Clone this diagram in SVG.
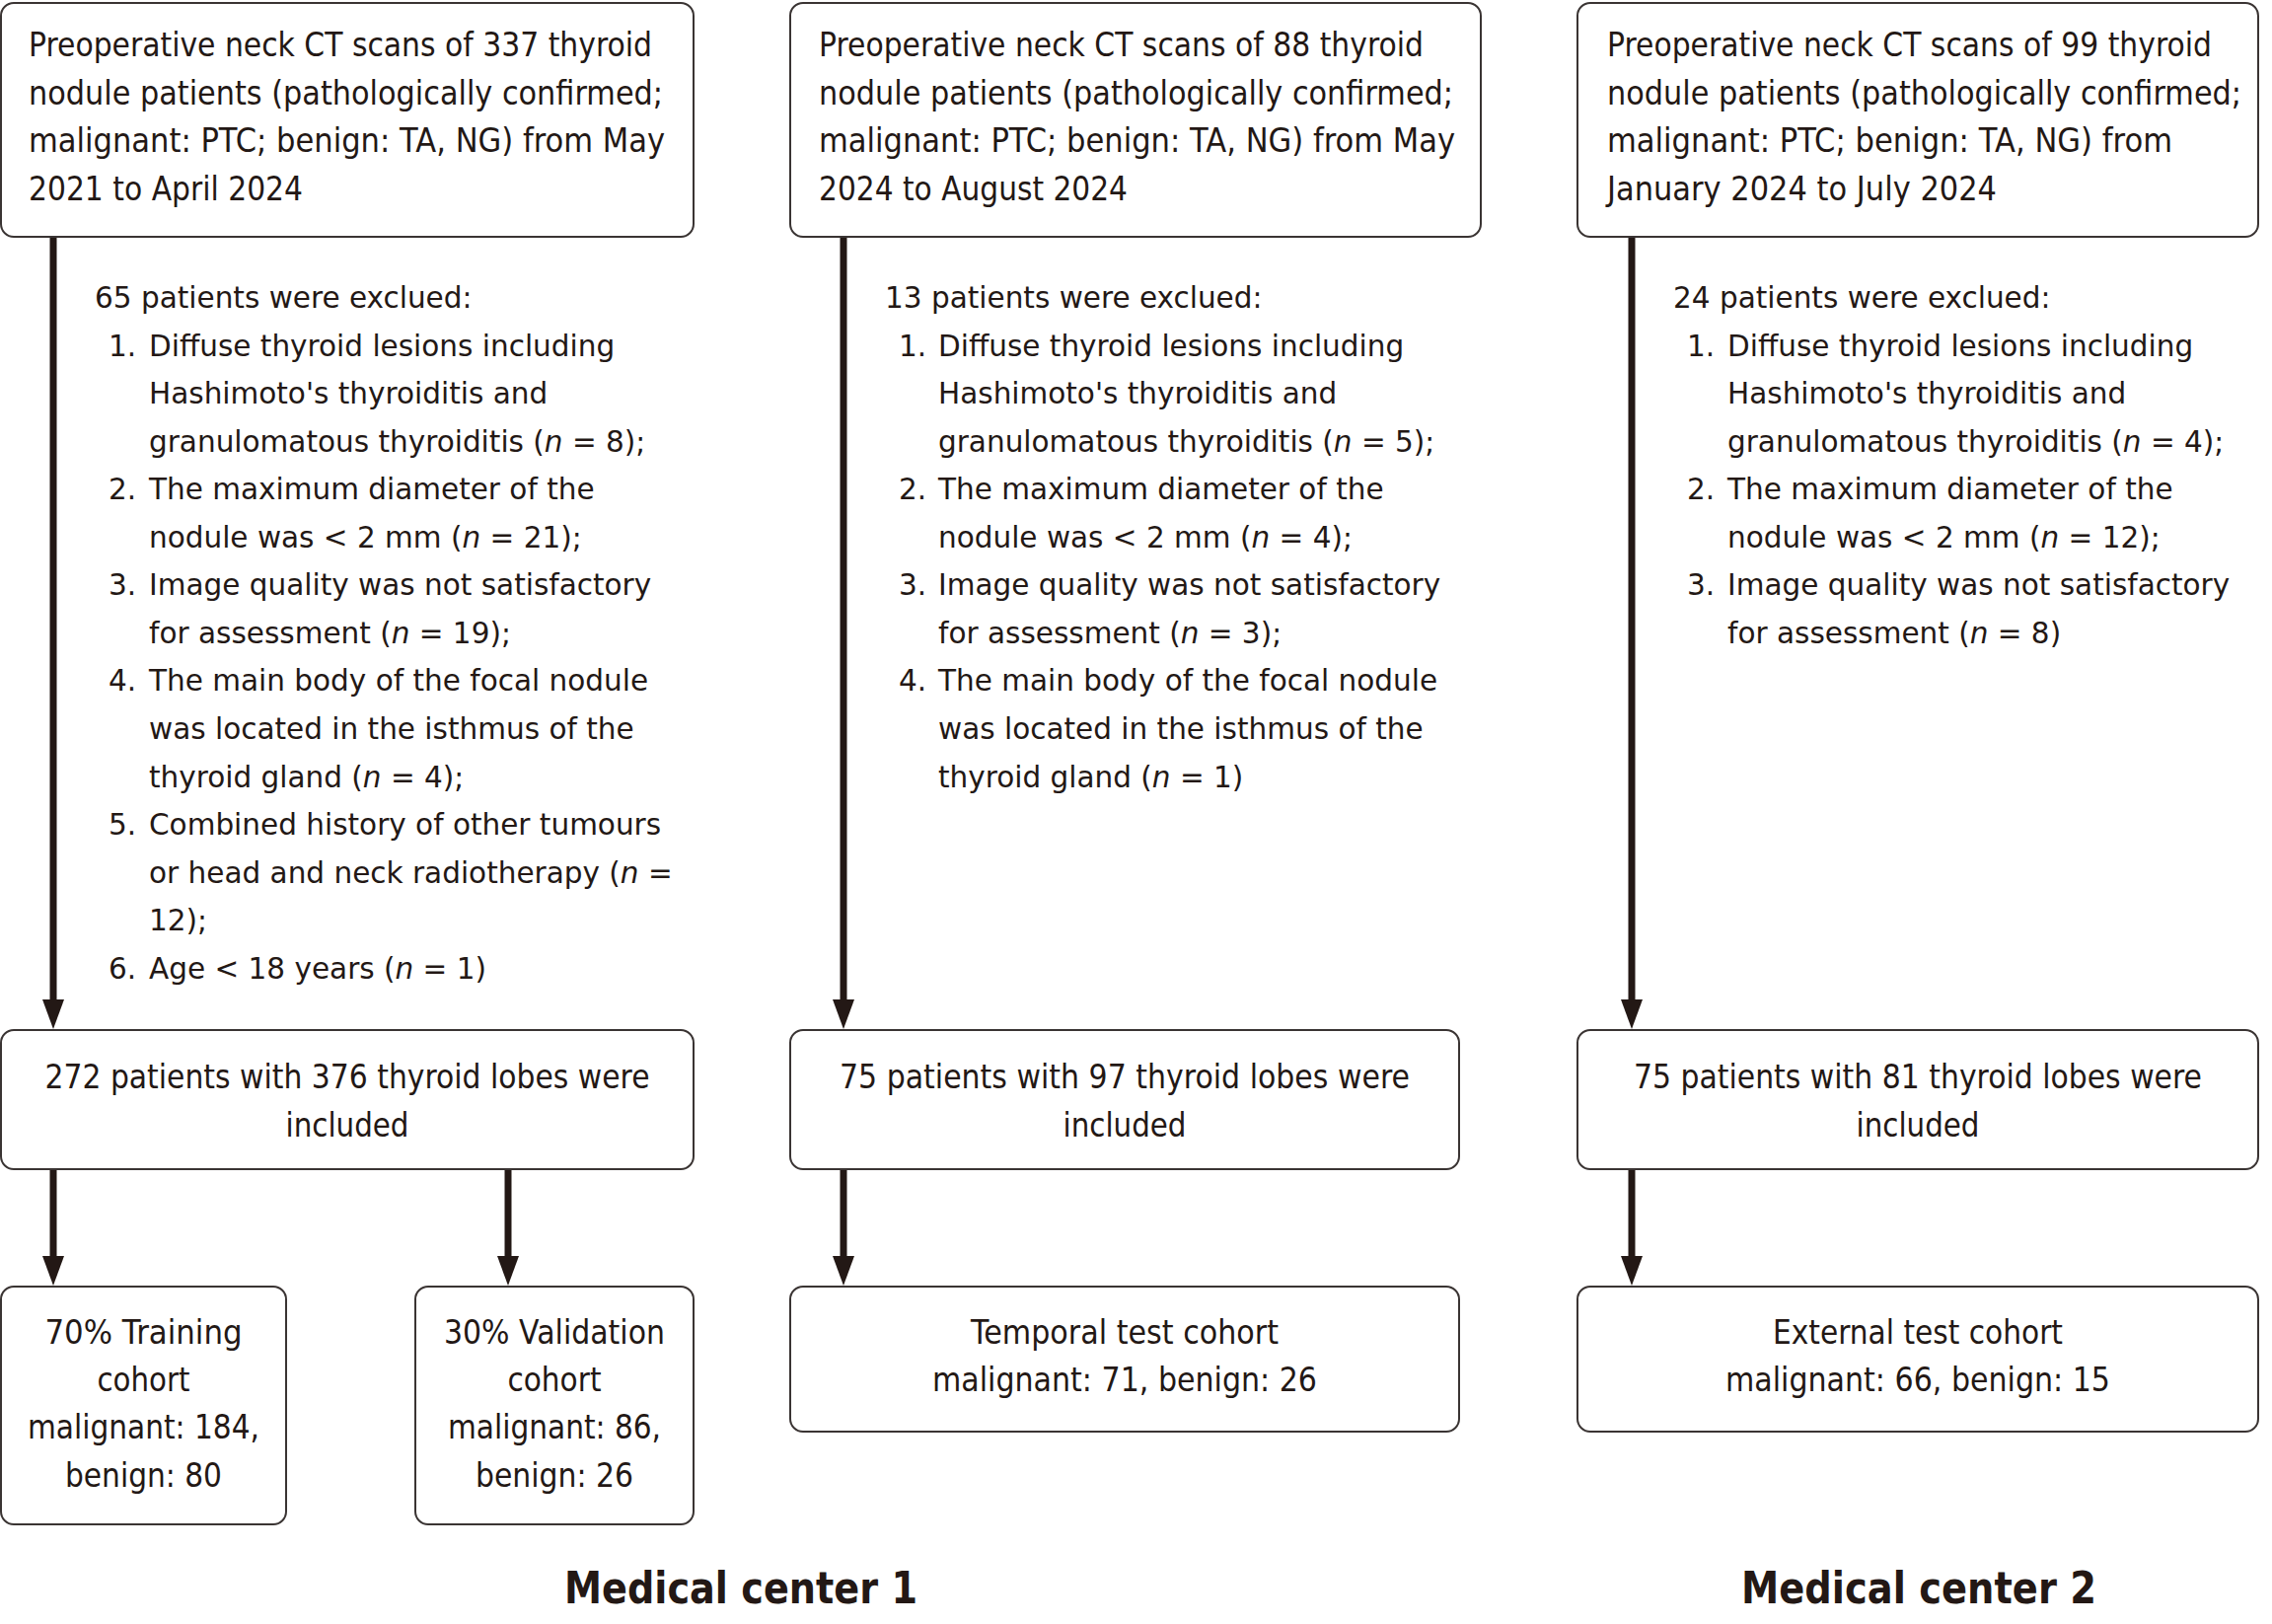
<svg xmlns="http://www.w3.org/2000/svg" width="2303" height="1646" viewBox="0 0 2303 1646">
<defs>
<style>
.box{fill:#fff;stroke:#3a3433;stroke-width:2}
.bt{font-family:"DejaVu Sans","Verdana",sans-serif;font-size:33px;fill:#231815}
.c{text-anchor:middle}
.ex{font-family:"DejaVu Sans","Verdana",sans-serif;font-size:29.5px;fill:#231815}
.lab{font-family:"DejaVu Sans","Verdana",sans-serif;font-size:44px;font-weight:bold;fill:#231815;text-anchor:middle}
.conn{stroke:#231815;stroke-width:7;fill:none;marker-end:url(#ah)}
.i{font-style:italic}
</style>
<marker id="ah" markerUnits="userSpaceOnUse" markerWidth="32" markerHeight="24" refX="2" refY="11" orient="auto" viewBox="0 0 32 24">
<path d="M0,0 L30,11 L0,22 Z" fill="#231815"/>
</marker>
</defs>
<rect width="2303" height="1646" fill="#fff"/>

<g id="connectors">
<line class="conn" x1="54" y1="240" x2="54" y2="1015"/>
<line class="conn" x1="855" y1="240" x2="855" y2="1015"/>
<line class="conn" x1="1654" y1="240" x2="1654" y2="1015"/>
<line class="conn" x1="54" y1="1185" x2="54" y2="1275"/>
<line class="conn" x1="515" y1="1185" x2="515" y2="1275"/>
<line class="conn" x1="855" y1="1185" x2="855" y2="1275"/>
<line class="conn" x1="1654" y1="1185" x2="1654" y2="1275"/>
</g>

<g id="src1">
<rect class="box" x="1" y="3" width="702" height="237" rx="13"/>
<text class="bt" x="29" y="57" textLength="632" lengthAdjust="spacingAndGlyphs">Preoperative neck CT scans of 337 thyroid</text>
<text class="bt" x="29" y="106" textLength="643" lengthAdjust="spacingAndGlyphs">nodule patients (pathologically confirmed;</text>
<text class="bt" x="29" y="154" textLength="645" lengthAdjust="spacingAndGlyphs">malignant: PTC; benign: TA, NG) from May</text>
<text class="bt" x="29" y="203" textLength="278" lengthAdjust="spacingAndGlyphs">2021 to April 2024</text>
</g>

<g id="src2">
<rect class="box" x="801" y="3" width="700" height="237" rx="13"/>
<text class="bt" x="830" y="57" textLength="613" lengthAdjust="spacingAndGlyphs">Preoperative neck CT scans of 88 thyroid</text>
<text class="bt" x="830" y="106" textLength="643" lengthAdjust="spacingAndGlyphs">nodule patients (pathologically confirmed;</text>
<text class="bt" x="830" y="154" textLength="645" lengthAdjust="spacingAndGlyphs">malignant: PTC; benign: TA, NG) from May</text>
<text class="bt" x="830" y="203" textLength="313" lengthAdjust="spacingAndGlyphs">2024 to August 2024</text>
</g>

<g id="src3">
<rect class="box" x="1599" y="3" width="690" height="237" rx="13"/>
<text class="bt" x="1629" y="57" textLength="613" lengthAdjust="spacingAndGlyphs">Preoperative neck CT scans of 99 thyroid</text>
<text class="bt" x="1629" y="106" textLength="643" lengthAdjust="spacingAndGlyphs">nodule patients (pathologically confirmed;</text>
<text class="bt" x="1629" y="154" textLength="573" lengthAdjust="spacingAndGlyphs">malignant: PTC; benign: TA, NG) from</text>
<text class="bt" x="1629" y="203" textLength="395" lengthAdjust="spacingAndGlyphs">January 2024 to July 2024</text>
</g>

<g id="excl1">
<text class="ex" x="96" y="312">65 patients were exclued:</text>
<text class="ex" x="110" y="360.5">1.</text><text class="ex" x="151" y="360.5">Diffuse thyroid lesions including</text>
<text class="ex" x="151" y="409">Hashimoto's thyroiditis and</text>
<text class="ex" x="151" y="457.5">granulomatous thyroiditis (<tspan class="i">n</tspan> = 8);</text>
<text class="ex" x="110" y="506">2.</text><text class="ex" x="151" y="506">The maximum diameter of the</text>
<text class="ex" x="151" y="554.5">nodule was &lt; 2 mm (<tspan class="i">n</tspan> = 21);</text>
<text class="ex" x="110" y="603">3.</text><text class="ex" x="151" y="603">Image quality was not satisfactory</text>
<text class="ex" x="151" y="651.5">for assessment (<tspan class="i">n</tspan> = 19);</text>
<text class="ex" x="110" y="700">4.</text><text class="ex" x="151" y="700">The main body of the focal nodule</text>
<text class="ex" x="151" y="749">was located in the isthmus of the</text>
<text class="ex" x="151" y="797.5">thyroid gland (<tspan class="i">n</tspan> = 4);</text>
<text class="ex" x="110" y="846">5.</text><text class="ex" x="151" y="846">Combined history of other tumours</text>
<text class="ex" x="151" y="894.5">or head and neck radiotherapy (<tspan class="i">n</tspan> =</text>
<text class="ex" x="151" y="943">12);</text>
<text class="ex" x="110" y="992">6.</text><text class="ex" x="151" y="992">Age &lt; 18 years (<tspan class="i">n</tspan> = 1)</text>
</g>

<g id="excl2">
<text class="ex" x="897" y="312">13 patients were exclued:</text>
<text class="ex" x="911" y="360.5">1.</text><text class="ex" x="951" y="360.5">Diffuse thyroid lesions including</text>
<text class="ex" x="951" y="409">Hashimoto's thyroiditis and</text>
<text class="ex" x="951" y="457.5">granulomatous thyroiditis (<tspan class="i">n</tspan> = 5);</text>
<text class="ex" x="911" y="506">2.</text><text class="ex" x="951" y="506">The maximum diameter of the</text>
<text class="ex" x="951" y="554.5">nodule was &lt; 2 mm (<tspan class="i">n</tspan> = 4);</text>
<text class="ex" x="911" y="603">3.</text><text class="ex" x="951" y="603">Image quality was not satisfactory</text>
<text class="ex" x="951" y="651.5">for assessment (<tspan class="i">n</tspan> = 3);</text>
<text class="ex" x="911" y="700">4.</text><text class="ex" x="951" y="700">The main body of the focal nodule</text>
<text class="ex" x="951" y="749">was located in the isthmus of the</text>
<text class="ex" x="951" y="797.5">thyroid gland (<tspan class="i">n</tspan> = 1)</text>
</g>

<g id="excl3">
<text class="ex" x="1696" y="312">24 patients were exclued:</text>
<text class="ex" x="1710" y="360.5">1.</text><text class="ex" x="1751" y="360.5">Diffuse thyroid lesions including</text>
<text class="ex" x="1751" y="409">Hashimoto's thyroiditis and</text>
<text class="ex" x="1751" y="457.5">granulomatous thyroiditis (<tspan class="i">n</tspan> = 4);</text>
<text class="ex" x="1710" y="506">2.</text><text class="ex" x="1751" y="506">The maximum diameter of the</text>
<text class="ex" x="1751" y="554.5">nodule was &lt; 2 mm (<tspan class="i">n</tspan> = 12);</text>
<text class="ex" x="1710" y="603">3.</text><text class="ex" x="1751" y="603">Image quality was not satisfactory</text>
<text class="ex" x="1751" y="651.5">for assessment (<tspan class="i">n</tspan> = 8)</text>
</g>

<g id="inc1">
<rect class="box" x="1" y="1044" width="702" height="141" rx="13"/>
<text class="bt c" x="352" y="1103" textLength="613" lengthAdjust="spacingAndGlyphs">272 patients with 376 thyroid lobes were</text>
<text class="bt c" x="352" y="1152" textLength="125" lengthAdjust="spacingAndGlyphs">included</text>
</g>

<g id="inc2">
<rect class="box" x="801" y="1044" width="678" height="141" rx="13"/>
<text class="bt c" x="1140" y="1103" textLength="578" lengthAdjust="spacingAndGlyphs">75 patients with 97 thyroid lobes were</text>
<text class="bt c" x="1140" y="1152" textLength="125" lengthAdjust="spacingAndGlyphs">included</text>
</g>

<g id="inc3">
<rect class="box" x="1599" y="1044" width="690" height="141" rx="13"/>
<text class="bt c" x="1944" y="1103" textLength="576" lengthAdjust="spacingAndGlyphs">75 patients with 81 thyroid lobes were</text>
<text class="bt c" x="1944" y="1152" textLength="125" lengthAdjust="spacingAndGlyphs">included</text>
</g>

<g id="train">
<rect class="box" x="1" y="1304" width="289" height="241" rx="13"/>
<text class="bt c" x="145.5" y="1362" textLength="200" lengthAdjust="spacingAndGlyphs">70% Training</text>
<text class="bt c" x="145.5" y="1410" textLength="94" lengthAdjust="spacingAndGlyphs">cohort</text>
<text class="bt c" x="145.5" y="1458" textLength="235" lengthAdjust="spacingAndGlyphs">malignant: 184,</text>
<text class="bt c" x="145.5" y="1507" textLength="159" lengthAdjust="spacingAndGlyphs">benign: 80</text>
</g>

<g id="valid">
<rect class="box" x="421" y="1304" width="282" height="241" rx="13"/>
<text class="bt c" x="562" y="1362" textLength="224" lengthAdjust="spacingAndGlyphs">30% Validation</text>
<text class="bt c" x="562" y="1410" textLength="95" lengthAdjust="spacingAndGlyphs">cohort</text>
<text class="bt c" x="562" y="1458" textLength="216" lengthAdjust="spacingAndGlyphs">malignant: 86,</text>
<text class="bt c" x="562" y="1507" textLength="160" lengthAdjust="spacingAndGlyphs">benign: 26</text>
</g>

<g id="temporal">
<rect class="box" x="801" y="1304" width="678" height="147" rx="13"/>
<text class="bt c" x="1140" y="1362" textLength="312" lengthAdjust="spacingAndGlyphs">Temporal test cohort</text>
<text class="bt c" x="1140" y="1410" textLength="390" lengthAdjust="spacingAndGlyphs">malignant: 71, benign: 26</text>
</g>

<g id="external">
<rect class="box" x="1599" y="1304" width="690" height="147" rx="13"/>
<text class="bt c" x="1944" y="1362" textLength="294" lengthAdjust="spacingAndGlyphs">External test cohort</text>
<text class="bt c" x="1944" y="1410" textLength="390" lengthAdjust="spacingAndGlyphs">malignant: 66, benign: 15</text>
</g>

<g id="labels">
<text class="lab" x="751" y="1625" textLength="358" lengthAdjust="spacingAndGlyphs">Medical center 1</text>
<text class="lab" x="1945" y="1625" textLength="360" lengthAdjust="spacingAndGlyphs">Medical center 2</text>
</g>
</svg>
